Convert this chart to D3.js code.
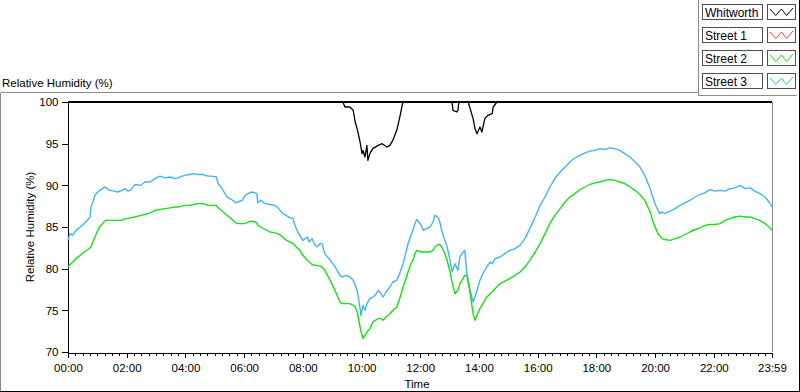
<!DOCTYPE html>
<html>
<head>
<meta charset="utf-8">
<script src="https://cdn.jsdelivr.net/npm/d3@7"></script>
<style>
  html, body { margin: 0; padding: 0; background: #fff; }
  svg text { font-family: "Liberation Sans", Arial, sans-serif; fill: #000; }
</style>
</head>
<body>
<svg id="chart" width="800" height="392"></svg>
<script>
// ---------- DATA (time in minutes after midnight, RH in %) ----------
const seriesNames = ["Whitworth", "Street 1", "Street 2", "Street 3"];
const seriesColors = ["#000000", "#ff3c3c", "#14e014", "#40b4f4"];

const whitworthTime = [0, 562, 566, 576, 583, 587, 591, 597, 601, 603, 607, 611, 613, 617, 623, 634, 642, 652, 658, 664, 672, 679, 683, 685,
  785, 787, 795, 797, 799, 818, 822, 828, 832, 836, 842, 846, 852, 858, 867, 869, 877, 1439];
const whitworthRH = [100, 100, 99.4, 99.4, 99.0, 97.6, 96.8, 95.2, 93.8, 94.2, 93.4, 94.8, 93.0, 93.8, 94.4, 94.8, 95.0, 94.6, 94.8, 95.4, 96.6, 98.4, 99.6, 100,
  100, 99.0, 98.8, 99.0, 100, 100, 99.2, 98.0, 96.8, 96.2, 97.0, 96.4, 98.0, 98.4, 98.6, 99.4, 100, 100];

const street1Time = [];
const street1RH = [];

const streetTime = [0, 4, 10, 16, 25, 33, 41, 45, 47, 51, 55, 61, 65, 72, 76, 82, 86, 94, 102, 110, 117, 123, 127, 137, 149, 157, 168, 178, 188, 198,
  209, 219, 225, 233, 239, 249, 256, 266, 276, 286, 294, 303, 307, 313, 317, 321, 325, 331, 337, 343, 347, 356, 362, 368, 376, 382, 386, 388, 394, 403,
  413, 423, 429, 439, 446, 450, 460, 464, 468, 474, 480, 489, 493, 499, 505, 509, 515, 519, 525, 536, 544, 550, 556, 560, 568, 576, 583, 587, 591, 595,
  599, 603, 607, 611, 617, 623, 628, 634, 640, 644, 650, 658, 664, 672, 679, 685, 691, 695, 701, 705, 709, 713, 717, 722, 726, 732, 740, 746, 750, 756,
  760, 764, 769, 775, 781, 785, 791, 797, 801, 805, 811, 816, 822, 828, 832, 836, 842, 848, 856, 863, 867, 873, 883, 893, 903, 914, 924, 934, 944, 955,
  965, 975, 985, 995, 1006, 1016, 1026, 1036, 1047, 1057, 1067, 1077, 1087, 1098, 1108, 1118, 1128, 1138, 1149, 1159, 1169, 1179, 1190, 1194, 1200, 1206, 1210, 1214, 1220,
  1231, 1241, 1251, 1261, 1271, 1282, 1292, 1302, 1312, 1322, 1333, 1343, 1353, 1363, 1374, 1384, 1394, 1404, 1414, 1425, 1433, 1439];

const street2RH = [80.2, 80.5, 80.8, 81.2, 81.6, 82.0, 82.3, 82.5, 82.6, 83.2, 83.8, 84.6, 85.0, 85.5, 85.8, 85.8, 85.8, 85.8, 85.8, 85.8, 86.0, 86.0, 86.1, 86.2, 86.4, 86.5, 86.7, 87.0, 87.1, 87.2,
  87.3, 87.4, 87.4, 87.5, 87.6, 87.6, 87.7, 87.8, 87.8, 87.6, 87.6, 87.6, 87.3, 87.0, 86.8, 86.6, 86.4, 86.1, 85.8, 85.5, 85.4, 85.4, 85.4, 85.6, 85.7, 85.6, 85.5, 85.2, 85.0, 84.7,
  84.4, 84.3, 84.2, 83.8, 83.4, 83.3, 83.0, 82.8, 82.5, 82.2, 81.6, 81.0, 80.8, 80.5, 80.4, 80.4, 80.3, 80.2, 79.8, 78.6, 77.6, 76.8, 76.0, 75.8, 75.8, 75.8, 75.6, 75.4, 74.8, 73.6,
  72.4, 71.6, 72.0, 72.4, 72.8, 73.6, 73.8, 74.0, 74.0, 73.8, 74.2, 74.6, 75.0, 75.4, 76.6, 77.8, 78.8, 79.6, 80.6, 81.0, 81.8, 82.2, 82.1, 82.0, 82.0, 82.0, 82.0, 82.2, 82.6, 82.9,
  82.9, 82.6, 82.0, 81.0, 79.6, 78.4, 77.0, 77.4, 78.2, 78.6, 79.2, 79.2, 77.0, 74.6, 73.8, 74.4, 75.2, 75.8, 76.6, 77.0, 77.2, 77.6, 78.2, 78.5, 78.8, 79.2, 79.6, 80.2, 81.0, 82.0,
  83.0, 84.2, 85.4, 86.4, 87.2, 88.0, 88.6, 89.0, 89.5, 89.8, 90.1, 90.3, 90.4, 90.6, 90.7, 90.6, 90.4, 90.2, 89.8, 89.4, 88.9, 88.2, 86.8, 86.0, 85.0, 84.2, 83.9, 83.6, 83.5,
  83.4, 83.6, 83.8, 84.1, 84.4, 84.7, 84.9, 85.2, 85.3, 85.3, 85.4, 85.8, 86.0, 86.2, 86.3, 86.2, 86.2, 86.0, 85.8, 85.4, 85.0, 84.6];

const street3RH = [83.4, 84.2, 84.0, 84.6, 85.0, 85.4, 85.9, 86.2, 87.4, 88.0, 88.8, 89.2, 89.4, 89.7, 89.8, 89.5, 89.4, 89.3, 89.2, 89.4, 89.6, 89.3, 89.4, 90.1, 90.0, 90.4, 90.4, 90.8, 91.1, 90.9,
  91.0, 90.8, 90.9, 91.1, 91.2, 91.3, 91.4, 91.3, 91.3, 91.1, 91.1, 91.0, 90.2, 89.8, 89.4, 89.0, 88.6, 88.4, 88.2, 87.9, 88.0, 88.2, 88.8, 89.0, 89.2, 89.1, 89.0, 87.9, 88.2, 87.8,
  87.7, 87.6, 87.3, 86.6, 86.4, 86.2, 86.0, 85.2, 84.6, 84.0, 83.4, 83.8, 83.2, 83.6, 82.8, 82.6, 83.0, 83.0, 81.8, 81.0, 80.4, 79.8, 79.2, 79.0, 79.2, 79.0, 78.6, 78.0, 77.4, 76.0,
  74.4, 75.6, 75.0, 75.8, 76.4, 76.6, 76.8, 77.4, 77.0, 76.6, 77.2, 77.8, 78.4, 78.6, 79.6, 80.6, 82.0, 83.0, 84.0, 84.6, 85.4, 85.9, 85.6, 85.2, 84.6, 84.8, 85.0, 85.6, 86.4, 86.2,
  85.6, 84.6, 83.6, 82.6, 81.0, 79.6, 80.6, 79.8, 81.4, 81.8, 82.2, 79.0, 77.4, 76.0, 76.6, 77.4, 78.6, 79.4, 80.2, 80.8, 80.6, 81.2, 81.4, 81.8, 82.2, 82.4, 82.8, 83.6, 84.8, 86.2,
  87.6, 88.6, 89.8, 90.8, 91.6, 92.2, 92.8, 93.3, 93.6, 93.9, 94.1, 94.2, 94.4, 94.3, 94.5, 94.4, 94.2, 93.8, 93.4, 92.8, 92.2, 91.2, 89.6, 88.8, 87.8, 87.0, 86.6, 86.8, 86.6,
  86.9, 87.2, 87.6, 87.9, 88.2, 88.6, 88.9, 89.1, 89.5, 89.3, 89.4, 89.3, 89.6, 89.7, 90.0, 89.6, 89.7, 89.3, 89.0, 88.6, 88.0, 87.4];

const yTicks = [70, 75, 80, 85, 90, 95, 100];
const xTickMinutes = [0, 120, 240, 360, 480, 600, 720, 840, 960, 1080, 1200, 1320, 1439];
const xTickLabels = ["00:00", "02:00", "04:00", "06:00", "08:00", "10:00", "12:00", "14:00", "16:00", "18:00", "20:00", "22:00", "23:59"];

// ---------- LAYOUT ----------
const svg = d3.select("#chart");
const FS = 11.5;
const L = 68, R = 772, T = 102, B = 352;
const x = d3.scaleLinear().domain([0, 1439]).range([L, R]);
const y = d3.scaleLinear().domain([70, 100]).range([B, T]);

// outer frame
const frame = svg.append("g").attr("shape-rendering", "crispEdges");
frame.append("line").attr("x1", 0.5).attr("x2", 698.5).attr("y1", 92.5).attr("y2", 92.5).attr("stroke", "#8c8c8c");
frame.append("line").attr("x1", 0.5).attr("x2", 0.5).attr("y1", 92.5).attr("y2", 392).attr("stroke", "#8c8c8c");
frame.append("line").attr("x1", 698.5).attr("x2", 698.5).attr("y1", 0).attr("y2", 95.5).attr("stroke", "#8c8c8c");
frame.append("line").attr("x1", 698.5).attr("x2", 797).attr("y1", 95.5).attr("y2", 95.5).attr("stroke", "#8c8c8c");
frame.append("line").attr("x1", 799.5).attr("x2", 799.5).attr("y1", 0).attr("y2", 392).attr("stroke", "#000");
frame.append("line").attr("x1", 0).attr("x2", 800).attr("y1", 391.5).attr("y2", 391.5).attr("stroke", "#000");

// plot frame (right gray)
frame.append("line").attr("x1", R + 0.5).attr("x2", R + 0.5).attr("y1", T).attr("y2", B).attr("stroke", "#8c8c8c");

// title
svg.append("text").attr("x", 2).attr("y", 87).attr("font-size", FS).text("Relative Humidity (%)");

// y axis
const yAxis = d3.axisLeft(y).tickValues(yTicks).tickSize(6).tickPadding(3).tickFormat(d3.format("d"));
const gy = svg.append("g").attr("transform", `translate(${L - 0.5},0)`).call(yAxis);
gy.select(".domain").attr("stroke", "#000").attr("shape-rendering", "crispEdges");
gy.selectAll(".tick line").attr("stroke", "#000").attr("shape-rendering", "crispEdges");
gy.selectAll(".tick text").attr("font-size", FS).attr("font-family", "Liberation Sans, Arial, sans-serif").attr("fill", "#000");

// x axis minor ticks (every 15 minutes)
const minorTicks = d3.range(0, 1440, 15).filter(m => m % 120 !== 0).concat([1439]);
const xMinor = d3.axisBottom(x).tickValues(minorTicks).tickSize(3).tickFormat("");
const gxm = svg.append("g").attr("transform", `translate(0,${B + 0.5})`).call(xMinor);
gxm.select(".domain").remove();
gxm.selectAll(".tick line").attr("stroke", "#000").attr("shape-rendering", "crispEdges");

// x axis major
const xAxis = d3.axisBottom(x).tickValues(xTickMinutes).tickSize(5).tickPadding(6)
  .tickFormat((d, i) => xTickLabels[i]);
const gx = svg.append("g").attr("transform", `translate(0,${B + 0.5})`).call(xAxis);
gx.select(".domain").attr("stroke", "#000").attr("shape-rendering", "crispEdges");
gx.selectAll(".tick line").attr("stroke", "#000").attr("shape-rendering", "crispEdges");
gx.selectAll(".tick text").attr("font-size", FS).attr("font-family", "Liberation Sans, Arial, sans-serif").attr("fill", "#000");

// axis titles
svg.append("text").attr("x", (L + R) / 2 - 3).attr("y", 388).attr("text-anchor", "middle").attr("font-size", FS).text("Time");
svg.append("text").attr("transform", `translate(34,${(T + B) / 2}) rotate(-90)`).attr("text-anchor", "middle")
  .attr("font-size", FS).text("Relative Humidity (%)");

// ---------- SERIES ----------
const line = d3.line().x(d => x(d[0])).y(d => y(d[1]));
const seriesData = [
  d3.zip(whitworthTime, whitworthRH),
  d3.zip(street1Time, street1RH),
  d3.zip(streetTime, street2RH),
  d3.zip(streetTime, street3RH)
];
const plot = svg.append("g");
[3, 2, 1].forEach(i => {
  if (!seriesData[i].length) return;
  plot.append("path").datum(seriesData[i]).attr("d", line)
    .attr("fill", "none").attr("stroke", seriesColors[i])
    .attr("stroke-width", 1.4).attr("stroke-linejoin", "round");
});
// Whitworth series
plot.append("path").datum(seriesData[0]).attr("d", line)
  .attr("fill", "none").attr("stroke", seriesColors[0])
  .attr("stroke-width", 1.3).attr("stroke-linejoin", "round");
// heavy top edge of the plot area (Whitworth saturated at 100 % drawn over the frame edge)
plot.append("line").attr("x1", L).attr("x2", R).attr("y1", y(100)).attr("y2", y(100))
  .attr("stroke", "#000").attr("stroke-width", 2.2).attr("shape-rendering", "crispEdges");

// ---------- LEGEND ----------
const lg = svg.append("g");
const sample = [[0, 0.2], [0.25, 0.85], [0.5, 0.2], [0.72, 0.85], [1, 0.1]];
seriesNames.forEach((name, i) => {
  const y0 = 4 + i * 23;
  lg.append("rect").attr("x", 702.5).attr("y", y0 + 0.5).attr("width", 60).attr("height", 15)
    .attr("fill", "#fff").attr("stroke", "#505050").attr("shape-rendering", "crispEdges");
  lg.append("text").attr("x", 705).attr("y", y0 + 12.5).attr("font-size", FS + 0.5).text(name);
  lg.append("rect").attr("x", 767.5).attr("y", y0 + 0.5).attr("width", 28).attr("height", 15)
    .attr("fill", "#fff").attr("stroke", "#505050").attr("shape-rendering", "crispEdges");
  const sx = d3.scaleLinear().range([770, 793]);
  const sy = d3.scaleLinear().range([y0 + 3, y0 + 13]);
  lg.append("path").datum(sample).attr("d", d3.line().x(d => sx(d[0])).y(d => sy(d[1])))
    .attr("fill", "none").attr("stroke", seriesColors[i]).attr("stroke-width", 1);
});
</script>
</body>
</html>
